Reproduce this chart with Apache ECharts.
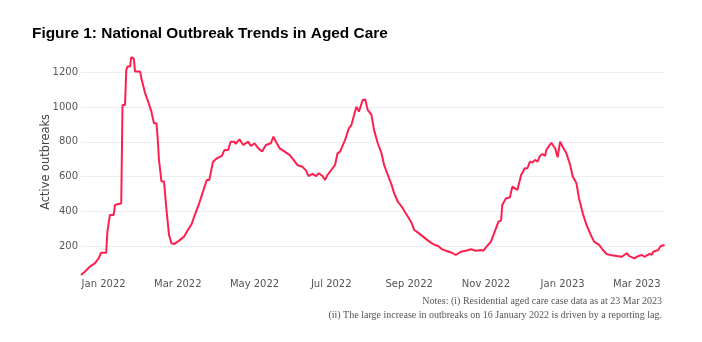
<!DOCTYPE html>
<html>
<head>
<meta charset="utf-8">
<script src="https://cdn.jsdelivr.net/npm/echarts@6/dist/echarts.min.js"></script>
<style>
  html, body { margin: 0; padding: 0; background: #fff; }
  #chart { width: 702px; height: 342px; }
</style>
</head>
<body>
<div id="chart"></div>
<script>
// Active outbreaks in residential aged care, by reporting date
const dates = [
  '2021-12-14','2021-12-17','2021-12-21','2021-12-25','2021-12-28','2021-12-30',
  '2022-01-03','2022-01-04','2022-01-06','2022-01-09','2022-01-10','2022-01-11','2022-01-15',
  '2022-01-16','2022-01-18','2022-01-19','2022-01-20','2022-01-22','2022-01-23','2022-01-25',
  '2022-01-26','2022-01-30','2022-01-31','2022-02-03','2022-02-05','2022-02-08','2022-02-10',
  '2022-02-12','2022-02-13','2022-02-14','2022-02-16','2022-02-18','2022-02-20','2022-02-22',
  '2022-02-24','2022-02-26','2022-03-02','2022-03-06','2022-03-09','2022-03-12','2022-03-14',
  '2022-03-18','2022-03-21','2022-03-24','2022-03-26','2022-03-29','2022-04-01','2022-04-05',
  '2022-04-07','2022-04-10','2022-04-12','2022-04-15','2022-04-16','2022-04-19','2022-04-22',
  '2022-04-26','2022-04-28','2022-05-01','2022-05-04','2022-05-07','2022-05-10','2022-05-14',
  '2022-05-16','2022-05-18','2022-05-21','2022-05-25','2022-05-29','2022-06-01','2022-06-04',
  '2022-06-08','2022-06-11','2022-06-13','2022-06-16','2022-06-19','2022-06-21','2022-06-24',
  '2022-06-26','2022-06-28','2022-07-01','2022-07-04','2022-07-06','2022-07-08','2022-07-12',
  '2022-07-15','2022-07-17','2022-07-21','2022-07-23','2022-07-26','2022-07-28','2022-07-30',
  '2022-08-02','2022-08-04','2022-08-07','2022-08-10','2022-08-12','2022-08-15','2022-08-18',
  '2022-08-20','2022-08-23','2022-08-26','2022-08-28','2022-08-31','2022-09-03','2022-09-05',
  '2022-09-08','2022-09-12','2022-09-16','2022-09-20','2022-09-24','2022-09-27','2022-09-30',
  '2022-10-05','2022-10-08','2022-10-12','2022-10-16','2022-10-20','2022-10-24','2022-10-28',
  '2022-10-30','2022-11-02','2022-11-05','2022-11-08','2022-11-11','2022-11-13','2022-11-14',
  '2022-11-17','2022-11-20','2022-11-22','2022-11-26','2022-11-29','2022-12-02','2022-12-04',
  '2022-12-06','2022-12-08','2022-12-10','2022-12-12','2022-12-14','2022-12-16','2022-12-18',
  '2022-12-19','2022-12-23','2022-12-26','2022-12-28','2022-12-30','2023-01-01','2023-01-04',
  '2023-01-07','2023-01-09','2023-01-12','2023-01-14','2023-01-17','2023-01-20','2023-01-24',
  '2023-01-26','2023-01-30','2023-02-02','2023-02-05','2023-02-09','2023-02-13','2023-02-17',
  '2023-02-21','2023-02-23','2023-02-27','2023-03-02','2023-03-05','2023-03-07','2023-03-11',
  '2023-03-13','2023-03-14','2023-03-18','2023-03-20','2023-03-23'
];
const outbreaks = [
  33, 52, 81, 100, 129, 161,
  161, 283, 379, 379, 436, 446, 446,
  1013, 1013, 1214, 1234, 1234, 1288, 1280,
  1205, 1205, 1166, 1080, 1041, 974, 907,
  907, 821, 696, 571, 571, 407, 263,
  215, 211, 231, 254, 292, 327, 369,
  446, 513, 580, 580, 686, 705, 719,
  753, 753, 801, 801, 788, 815, 782,
  801, 776, 792, 763, 744, 782, 792,
  830, 801, 763, 744, 724, 696, 667,
  657, 634, 603, 615, 603, 619, 603,
  580, 609, 638, 667, 734, 744, 811,
  878, 897, 1003, 974, 1041, 1045, 984,
  955, 869, 792, 734, 667, 609, 552,
  504, 455, 427, 403, 369, 331, 292,
  277, 254, 231, 211, 200, 181, 173,
  161, 148, 167, 173, 181, 173, 177,
  173, 200, 225, 283, 340, 346, 436,
  475, 480, 542, 523, 609, 648, 648,
  686, 680, 696, 686, 719, 730, 719,
  753, 795, 763, 711, 801, 772, 734,
  667, 600, 561, 475, 388, 321, 254,
  225, 206, 177, 154, 146, 142, 138,
  158, 142, 129, 142, 148, 138, 154,
  150, 167, 177, 200, 206
];
// Date ticks every second month
const xTicks = ['2022-01-01','2022-03-01','2022-05-01','2022-07-01',
                '2022-09-01','2022-11-01','2023-01-01','2023-03-01'];
const monthNames = ['Jan','Feb','Mar','Apr','May','Jun','Jul','Aug','Sep','Oct','Nov','Dec'];
const yTicks = [200, 400, 600, 800, 1000, 1200];

const titleText = 'Figure 1: National Outbreak Trends in Aged Care';
const notes = [
  'Notes: (i) Residential aged care case data as at 23 Mar 2023',
  '(ii) The large increase in outbreaks on 16 January 2022 is driven by a reporting lag.'
];

function toTime(s) {
  const p = s.split('-').map(Number);
  return new Date(p[0], p[1] - 1, p[2]).getTime();
}

const seriesData = dates.map((d, i) => [toTime(d), outbreaks[i]]);

const chart = echarts.init(document.getElementById('chart'), null, { renderer: 'canvas' });

const tickFont = 'DejaVu Sans';

chart.setOption({
  animation: false,
  backgroundColor: '#ffffff',
  title: {
    text: titleText,
    left: 32,
    top: 26,
    padding: 0,
    textStyle: {
      fontFamily: 'Liberation Sans',
      fontWeight: 'bold',
      fontSize: 15.4,
      color: '#000000'
    }
  },
  grid: {
    left: 81,
    right: 37.5,
    top: 55.1,
    bottom: 61.3,
    containLabel: false
  },
  xAxis: {
    // timestamps on a linear scale, labelled at the first of every second month
    type: 'value',
    scale: true,
    min: toTime(dates[0]),
    max: toTime(dates[dates.length - 1]),
    axisLine: { show: false },
    axisTick: { show: false },
    splitLine: { show: false },
    axisLabel: {
      customValues: xTicks.map(toTime),
      margin: -1,
      fontFamily: tickFont,
      fontSize: 10,
      color: '#555555',
      formatter: function (v) {
        const d = new Date(v);
        return monthNames[d.getMonth()] + ' ' + d.getFullYear();
      }
    }
  },
  yAxis: {
    type: 'value',
    min: 0,
    max: 1300,
    interval: 200,
    name: 'Active outbreaks',
    nameLocation: 'middle',
    nameRotate: 90,
    nameGap: 29,
    nameMoveOverlap: false,
    nameTextStyle: {
      fontFamily: tickFont,
      fontSize: 11.4,
      color: '#444444',
      padding: [0, 0, 0, 12]
    },
    axisLine: { show: false },
    axisTick: { show: false },
    axisLabel: {
      margin: 3,
      fontFamily: tickFont,
      fontSize: 10,
      color: '#555555',
      formatter: function (v) {
        return yTicks.indexOf(v) >= 0 ? String(v) : '';
      }
    },
    splitLine: {
      show: true,
      showMinLine: false,
      showMaxLine: false,
      lineStyle: { color: '#eeeeee', width: 1 }
    }
  },
  series: [{
    type: 'line',
    data: seriesData,
    showSymbol: false,
    symbol: 'none',
    lineStyle: { color: '#ff1f4e', width: 2 },
    itemStyle: { color: '#ff1f4e' }
  }],
  graphic: notes.map((t, i) => ({
    type: 'text',
    x: 662,
    y: 301 + i * 14,
    silent: true,
    style: {
      text: t,
      align: 'right',
      verticalAlign: 'middle',
      font: '10px "Liberation Serif"',
      fill: '#555555'
    }
  }))
});
</script>
</body>
</html>
